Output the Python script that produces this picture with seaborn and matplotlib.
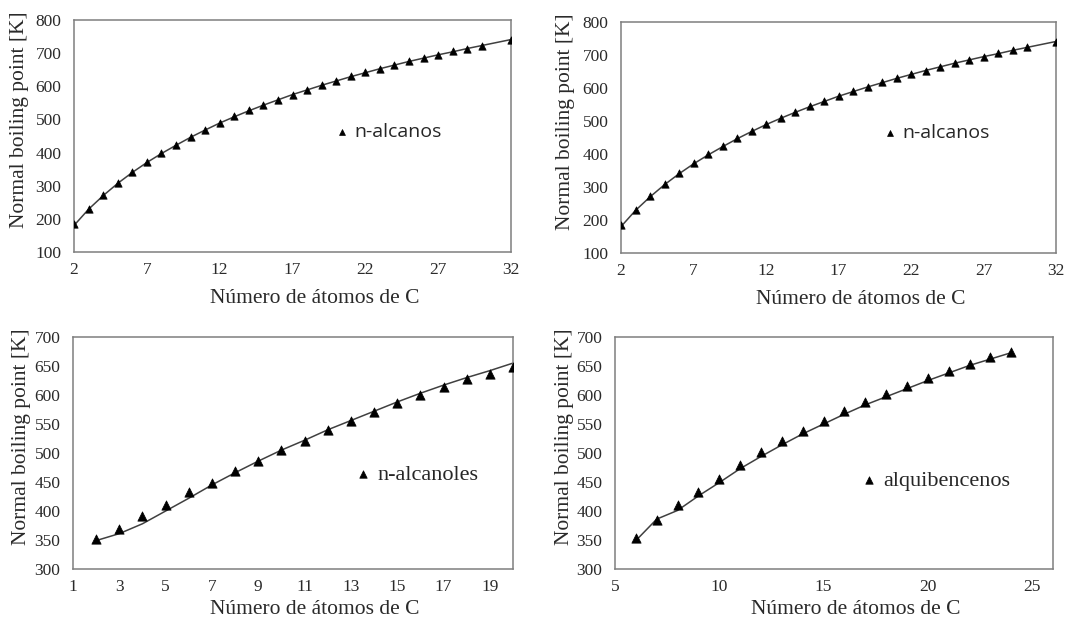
import matplotlib
matplotlib.use('Agg')
import matplotlib.pyplot as plt
import seaborn as sns

# ── Data ─────────────────────────────────────────────────────────────
alk_n = [2, 3, 4, 5, 6, 7, 8, 9, 10, 11, 12, 13, 14, 15, 16, 17, 18, 19, 20,
         21, 22, 23, 24, 25, 26, 27, 28, 29, 30, 32]
alk_tb = [185, 231, 273, 309, 342, 372, 399, 424, 447, 469, 490, 509, 527,
          544, 560, 575, 590, 603, 617, 630, 642, 653, 665, 675, 685, 695,
          705, 714, 723, 740]
alk_fit = [180, 229, 270, 307, 340, 370, 397, 422, 446, 468, 489, 508, 526,
           543, 559, 575, 589, 603, 616, 629, 641, 653, 664, 675, 685, 695,
           704, 714, 723, 741]

ol_n = list(range(2, 21))
ol_tb = [352, 369, 392, 411, 432, 449, 469, 487, 506, 520, 540, 555, 571,
         586, 600, 613, 627, 637, 648]
ol_fit = [349, 361, 378, 400, 422, 445, 466, 486, 505, 522, 540, 556, 572,
          588, 603, 617, 630, 642, 655]

bz_n = list(range(6, 25))
bz_tb = [354, 385, 411, 433, 456, 480, 501, 521, 538, 555, 572, 588, 602,
         616, 629, 641, 653, 665, 674]
bz_fit = [349, 386, 401, 426, 449, 473, 494, 514, 533, 550, 567, 583, 597,
          611, 625, 638, 651, 662, 673]

X_LABEL = 'Número de átomos de C'
Y_LABEL = 'Normal boiling point [K]'

SERIF = ['Liberation Serif', 'DejaVu Serif']
SANS = ['Open Sans', 'DejaVu Sans']


def draw_panel(rect, n, tb, fit, label, xlim, xticks, ylim, yticks,
               leg_pos, leg_font, msize, ylab_x, xpad):
    ax = fig.add_axes(rect)
    sns.lineplot(x=n, y=fit, color='#404040', linewidth=1.1, ax=ax,
                 legend=False)
    sns.scatterplot(x=n, y=tb, marker='^', color='black', s=msize,
                    edgecolor='black', linewidth=0.5, label=label, ax=ax,
                    zorder=3)
    ax.set_xlim(*xlim)
    ax.set_ylim(*ylim)
    ax.set_xticks(xticks)
    ax.set_yticks(yticks)
    ax.tick_params(axis='y', length=0, pad=9, labelsize=12.5,
                   colors='#2a2a2a')
    ax.tick_params(axis='x', length=0, pad=7, labelsize=12.5,
                   colors='#2a2a2a')
    for t in ax.get_xticklabels() + ax.get_yticklabels():
        t.set_fontfamily(SERIF)
    for s in ax.spines.values():
        s.set_color('#7f7f7f')
        s.set_linewidth(1.1)
    ax.set_xlabel(X_LABEL, fontsize=15.5, family=SERIF, color='#2a2a2a',
                  labelpad=xpad)
    ax.xaxis.label.set_x(0.55)
    ax.set_ylabel(Y_LABEL, fontsize=15.5, family=SERIF, color='#2a2a2a')
    ax.yaxis.set_label_coords(ylab_x, 0.57)
    ax.legend(loc='center left', bbox_to_anchor=leg_pos,
              frameon=False, handlelength=0.6, handletextpad=0.35,
              markerscale=0.8, borderaxespad=0, borderpad=0,
              prop={'family': leg_font[0], 'size': leg_font[1]})
    return ax


sns.set_style('white')
fig = plt.figure(figsize=(10.86, 6.26), dpi=100)
W, H = 1086, 626


def rect(l, r, t, b):
    return [l / W, 1 - b / H, (r - l) / W, (b - t) / H]


draw_panel(rect(74, 511, 20, 252), alk_n, alk_tb, alk_fit, 'n-alcanos',
           (2, 32), range(2, 33, 5), (100, 800), range(100, 801, 100),
           (0.6, 0.517), (SANS, 14), 28, -0.103, 8)
draw_panel(rect(621, 1056, 22, 253), alk_n, alk_tb, alk_fit, 'n-alcanos',
           (2, 32), range(2, 33, 5), (100, 800), range(100, 801, 100),
           (0.605, 0.52), (SANS, 14), 28, -0.106, 8)
draw_panel(rect(73, 513, 337, 569), ol_n, ol_tb, ol_fit, 'n-alcanoles',
           (1, 20), range(1, 20, 2), (300, 700), range(300, 701, 50),
           (0.645, 0.406), (SERIF, 16), 45, -0.095, 4)
draw_panel(rect(615, 1053, 337, 569), bz_n, bz_tb, bz_fit, 'alquibencenos',
           (5, 26), range(5, 26, 5), (300, 700), range(300, 701, 50),
           (0.565, 0.38), (SERIF, 16), 45, -0.094, 4)

fig.savefig('out.png', dpi=100)
